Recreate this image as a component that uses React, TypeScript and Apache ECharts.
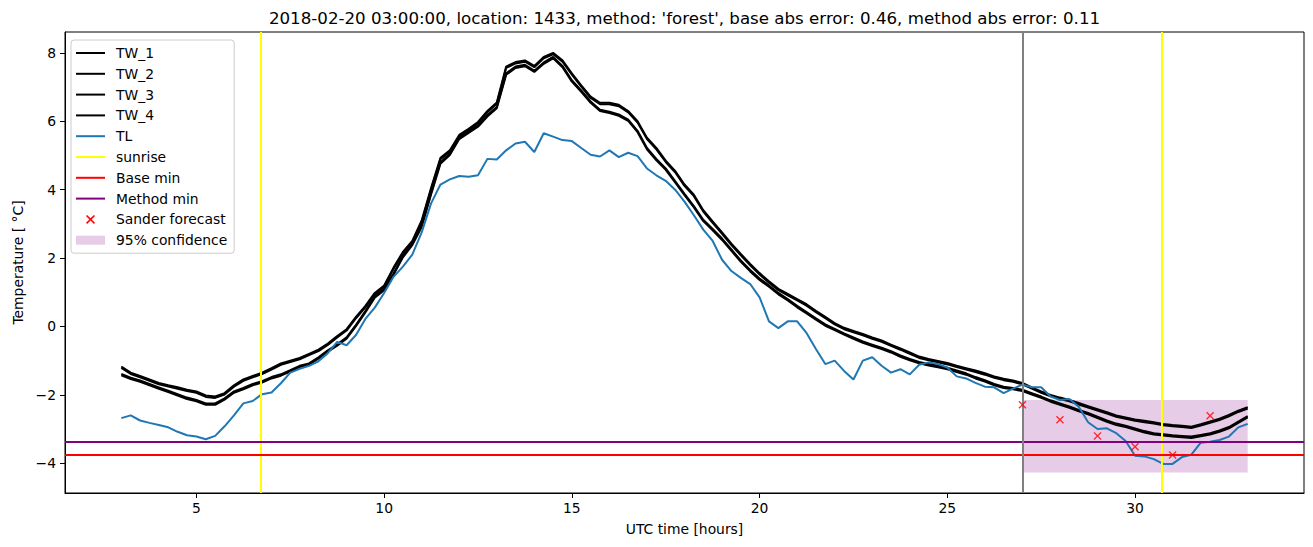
import React, { useEffect, useRef } from "react";
import * as echarts from "echarts";

const FONT = "DejaVu Sans";

// time axis: 3 h .. 33 h, every 15 minutes
const hours: number[] = Array.from({ length: 121 }, (_, i) => 3 + i * 0.25);

const tw1 = [
  -1.17, -1.35, -1.45, -1.55, -1.65, -1.72, -1.78, -1.85, -1.9, -2.02, -2.05, -1.95,
  -1.72, -1.55, -1.45, -1.35, -1.22, -1.08, -1.0, -0.92, -0.8, -0.68, -0.5, -0.28,
  -0.08, 0.28, 0.6, 0.98, 1.2, 1.72, 2.18, 2.5, 3.1, 4.05, 4.93, 5.15,
  5.6, 5.78, 5.98, 6.3, 6.55, 7.6, 7.73, 7.78, 7.62, 7.88, 8.0, 7.78,
  7.4, 7.05, 6.72, 6.54, 6.54, 6.48, 6.3, 6.0, 5.52, 5.22, 4.85, 4.55,
  4.15, 3.85, 3.4, 3.07, 2.75, 2.42, 2.12, 1.83, 1.56, 1.32, 1.1, 0.95,
  0.8, 0.65, 0.46, 0.28, 0.1, -0.04, -0.13, -0.22, -0.32, -0.41, -0.53, -0.64,
  -0.76, -0.88, -0.95, -1.01, -1.07, -1.15, -1.22, -1.29, -1.37, -1.46, -1.53, -1.58,
  -1.65, -1.78, -1.9, -2.0, -2.08, -2.15, -2.24, -2.33, -2.42, -2.51, -2.6, -2.66,
  -2.72, -2.76, -2.8, -2.85, -2.88, -2.9, -2.93, -2.86, -2.78, -2.7, -2.59, -2.46,
  -2.36,
];
const tw2 = [
  -1.21, -1.39, -1.49, -1.59, -1.69, -1.76, -1.82, -1.89, -1.94, -2.06, -2.09, -1.99,
  -1.76, -1.59, -1.49, -1.39, -1.26, -1.12, -1.04, -0.96, -0.84, -0.72, -0.54, -0.32,
  -0.12, 0.24, 0.56, 0.94, 1.16, 1.68, 2.14, 2.46, 3.06, 4.01, 4.89, 5.11,
  5.56, 5.74, 5.94, 6.26, 6.51, 7.56, 7.69, 7.74, 7.58, 7.84, 7.96, 7.74,
  7.36, 7.01, 6.68, 6.5, 6.5, 6.44, 6.26, 5.96, 5.48, 5.18, 4.81, 4.51,
  4.11, 3.81, 3.36, 3.03, 2.71, 2.38, 2.08, 1.79, 1.52, 1.28, 1.06, 0.91,
  0.76, 0.61, 0.42, 0.24, 0.06, -0.08, -0.17, -0.26, -0.36, -0.45, -0.57, -0.68,
  -0.8, -0.92, -0.99, -1.05, -1.11, -1.19, -1.26, -1.33, -1.41, -1.5, -1.57, -1.62,
  -1.69, -1.82, -1.94, -2.04, -2.12, -2.19, -2.28, -2.37, -2.46, -2.55, -2.64, -2.7,
  -2.76, -2.8, -2.84, -2.89, -2.92, -2.94, -2.97, -2.9, -2.82, -2.74, -2.63, -2.5,
  -2.4,
];
const tw3 = [
  -1.39, -1.5, -1.58, -1.68, -1.78, -1.88, -1.98, -2.08, -2.15, -2.25, -2.25, -2.1,
  -1.9, -1.8, -1.68, -1.6, -1.48, -1.4, -1.28, -1.15, -1.08, -0.9, -0.7, -0.52,
  -0.32, 0.05, 0.45, 0.88, 1.1, 1.55, 2.06, 2.42, 2.95, 3.9, 4.8, 5.05,
  5.52, 5.7, 5.88, 6.18, 6.42, 7.4, 7.6, 7.65, 7.48, 7.72, 7.88, 7.62,
  7.2, 6.9, 6.58, 6.34, 6.28, 6.2, 6.05, 5.72, 5.22, 4.9, 4.62, 4.25,
  3.88, 3.52, 3.12, 2.85, 2.57, 2.25, 1.93, 1.65, 1.4, 1.2, 0.98, 0.8,
  0.6, 0.42, 0.24, 0.06, -0.07, -0.2, -0.32, -0.44, -0.53, -0.62, -0.72, -0.85,
  -0.95, -1.04, -1.1, -1.15, -1.21, -1.29, -1.37, -1.48, -1.57, -1.68, -1.76, -1.8,
  -1.85, -1.95, -2.05, -2.16, -2.25, -2.34, -2.44, -2.53, -2.64, -2.75, -2.84, -2.9,
  -2.98, -3.06, -3.12, -3.15, -3.18, -3.2, -3.22, -3.17, -3.12, -3.04, -2.94, -2.78,
  -2.62,
];
const tw4 = [
  -1.43, -1.54, -1.62, -1.72, -1.82, -1.92, -2.02, -2.12, -2.19, -2.29, -2.29, -2.14,
  -1.94, -1.84, -1.72, -1.64, -1.52, -1.44, -1.32, -1.19, -1.12, -0.94, -0.74, -0.56,
  -0.36, 0.01, 0.41, 0.84, 1.06, 1.51, 2.02, 2.38, 2.91, 3.86, 4.76, 5.01,
  5.48, 5.66, 5.84, 6.14, 6.38, 7.36, 7.56, 7.61, 7.44, 7.68, 7.84, 7.58,
  7.16, 6.86, 6.54, 6.3, 6.24, 6.16, 6.01, 5.68, 5.18, 4.86, 4.58, 4.21,
  3.84, 3.48, 3.08, 2.81, 2.53, 2.21, 1.89, 1.61, 1.36, 1.16, 0.94, 0.76,
  0.56, 0.38, 0.2, 0.02, -0.11, -0.24, -0.36, -0.48, -0.57, -0.66, -0.76, -0.89,
  -0.99, -1.08, -1.14, -1.19, -1.25, -1.33, -1.41, -1.52, -1.61, -1.72, -1.8, -1.84,
  -1.89, -1.99, -2.09, -2.2, -2.29, -2.38, -2.48, -2.57, -2.68, -2.79, -2.88, -2.94,
  -3.02, -3.1, -3.16, -3.19, -3.22, -3.24, -3.26, -3.21, -3.16, -3.08, -2.98, -2.82,
  -2.66,
];
const tl = [
  -2.68, -2.6, -2.75, -2.82, -2.88, -2.95, -3.08, -3.18, -3.22, -3.3, -3.2, -2.92,
  -2.6, -2.25, -2.18, -1.98, -1.93, -1.66, -1.35, -1.24, -1.15, -1.02, -0.78, -0.45,
  -0.55, -0.25, 0.22, 0.55, 0.98, 1.45, 1.75, 2.1, 2.75, 3.6, 4.15, 4.3,
  4.4, 4.38, 4.42, 4.9, 4.88, 5.15, 5.35, 5.4, 5.1, 5.65, 5.55, 5.45,
  5.42, 5.22, 5.02, 4.97, 5.15, 4.95, 5.08, 4.98, 4.62, 4.42, 4.26, 4.0,
  3.65, 3.25, 2.83, 2.5, 1.95, 1.62, 1.42, 1.24, 0.85, 0.15, -0.05, 0.15,
  0.15, -0.19, -0.66, -1.1, -1.0, -1.3, -1.55, -1.0, -0.9, -1.15, -1.35, -1.25,
  -1.4, -1.12, -1.05, -1.1, -1.2, -1.46, -1.52, -1.65, -1.76, -1.78, -1.95, -1.82,
  -1.7, -1.78, -1.78, -2.05, -2.15, -2.12, -2.35, -2.8, -3.0, -2.98, -3.12, -3.35,
  -3.78, -3.8, -3.88, -4.02, -4.02, -3.82, -3.75, -3.4, -3.37, -3.32, -3.22, -2.95,
  -2.85,
];

const sunriseHours = [6.71, 30.7];
const forecastStartHour = [27.0];
const baseMinValue = [-3.76];
const methodMinValue = [-3.38];
const forecastHours = [27, 28, 29, 30, 31, 32];
const forecastValues = [-2.29, -2.73, -3.2, -3.52, -3.76, -2.61];
const confidenceHours = [27, 33];
const confidenceRange = [-4.27, -2.15];

const xTicks = [5, 10, 15, 20, 25, 30];
const yTicks = [-4, -2, 0, 2, 4, 6, 8];

const TITLE =
  "2018-02-20 03:00:00, location: 1433, method: 'forest', base abs error: 0.46, method abs error: 0.11";

const X_PATH =
  "path://M0,1.2 L1.2,0 L5,3.8 L8.8,0 L10,1.2 L6.2,5 L10,8.8 L8.8,10 L5,6.2 L1.2,10 L0,8.8 L3.8,5 Z";

const pairs = (ys: number[]) => hours.map((h, i) => [h, ys[i]]);

const lineSeries = (name: string, ys: number[], color: string) => ({
  name,
  type: "line",
  data: pairs(ys),
  symbol: "none",
  showSymbol: false,
  lineStyle: { color, width: 2 },
  itemStyle: { color },
  z: 2,
});

const refLine = (name: string, color: string, data: any[], z = 3) => ({
  name,
  type: "line",
  data: [],
  symbol: "none",
  lineStyle: { color, width: 2 },
  itemStyle: { color },
  z,
  markLine: {
    silent: true,
    symbol: ["none", "none"],
    label: { show: false },
    lineStyle: { color, width: 2, type: "solid" },
    emphasis: { disabled: true },
    data,
  },
});

export default function App() {
  const ref = useRef<HTMLDivElement>(null);
  useEffect(() => {
    if (!ref.current) return;
    const chart = echarts.init(ref.current, undefined, { renderer: "svg" });
    const axisText = { color: "#000", fontFamily: FONT, fontSize: 13.89 };
    chart.setOption({
      animation: false,
      textStyle: { fontFamily: FONT },
      grid: {
        left: 65,
        right: 9,
        top: 32,
        bottom: 54,
        show: true,
        borderColor: "#000",
        borderWidth: 1,
        backgroundColor: "transparent",
      },
      graphic: [
        {
          type: "text",
          x: 684.5,
          y: 18,
          silent: true,
          style: {
            text: TITLE,
            font: `16.67px "${FONT}"`,
            fill: "#000",
            textAlign: "center",
            textVerticalAlign: "middle",
          },
        },
      ],
      legend: {
        orient: "vertical",
        left: 71,
        top: 40,
        itemWidth: 29,
        itemHeight: 9,
        itemGap: 6.8,
        padding: [6, 7, 6, 4],
        borderColor: "#cccccc",
        borderWidth: 1,
        borderRadius: 3,
        backgroundColor: "rgba(255,255,255,0.8)",
        textStyle: { ...axisText, padding: [0, 0, 0, 6] },
        itemStyle: { opacity: 0 },
        selectedMode: false,
        data: [
          { name: "TW_1" },
          { name: "TW_2" },
          { name: "TW_3" },
          { name: "TW_4" },
          { name: "TL" },
          { name: "sunrise" },
          { name: "Base min" },
          { name: "Method min" },
          {
            name: "Sander forecast",
            icon: X_PATH,
            itemStyle: { color: "#ff0000", opacity: 1 },
          },
          {
            name: "95% confidence",
            icon: "rect",
            itemStyle: { color: "rgba(128,0,128,0.2)", opacity: 1 },
          },
        ],
      },
      xAxis: {
        type: "value",
        min: 1.5,
        max: 34.5,
        name: "UTC time [hours]",
        nameLocation: "middle",
        nameGap: 29,
        nameTextStyle: axisText,
        axisLine: { show: true, onZero: false, lineStyle: { color: "#000", width: 1 } },
        axisTick: { show: true, length: 5, lineStyle: { color: "#000" }, customValues: xTicks },
        axisLabel: { ...axisText, margin: 8, customValues: xTicks },
        splitLine: { show: false },
      },
      yAxis: {
        type: "value",
        min: -4.87,
        max: 8.61,
        name: "Temperature [ °C]",
        nameLocation: "middle",
        nameGap: 40,
        nameTextStyle: axisText,
        axisLine: { show: true, onZero: false, lineStyle: { color: "#000", width: 1 } },
        axisTick: { show: true, length: 5, lineStyle: { color: "#000" }, customValues: yTicks },
        axisLabel: {
          ...axisText,
          margin: 9,
          customValues: yTicks,
          formatter: (v: number) => String(v).replace("-", "\u2212"),
        },
        splitLine: { show: false },
      },
      series: [
        {
          name: "95% confidence",
          type: "line",
          data: [],
          symbol: "none",
          lineStyle: { color: "rgba(128,0,128,0.2)", width: 0 },
          itemStyle: { color: "rgba(128,0,128,0.2)" },
          z: 1,
          markArea: {
            silent: true,
            itemStyle: { color: "rgba(128,0,128,0.2)" },
            label: { show: false },
            data: [
              [
                { xAxis: confidenceHours[0], yAxis: confidenceRange[0] },
                { xAxis: confidenceHours[1], yAxis: confidenceRange[1] },
              ],
            ],
          },
        },
        lineSeries("TW_1", tw1, "#000000"),
        lineSeries("TW_2", tw2, "#000000"),
        lineSeries("TW_3", tw3, "#000000"),
        lineSeries("TW_4", tw4, "#000000"),
        lineSeries("TL", tl, "#1f77b4"),
        refLine("sunrise", "#ffff00", sunriseHours.map((h) => ({ xAxis: h }))),
        refLine("Base min", "#ff0000", baseMinValue.map((v) => ({ yAxis: v }))),
        refLine("Method min", "#800080", methodMinValue.map((v) => ({ yAxis: v }))),
        refLine("forecast start", "#808080", forecastStartHour.map((h) => ({ xAxis: h }))),
        {
          name: "Sander forecast",
          type: "scatter",
          data: forecastHours.map((h, i) => [h, forecastValues[i]]),
          symbol: X_PATH,
          symbolSize: 8,
          itemStyle: { color: "#ff0000" },
          z: 5,
        },
      ],
    });
    return () => chart.dispose();
  }, []);
  return (
    <div
      ref={ref}
      style={{ position: "absolute", left: 0, top: 0, width: 1313, height: 547 }}
    />
  );
}
